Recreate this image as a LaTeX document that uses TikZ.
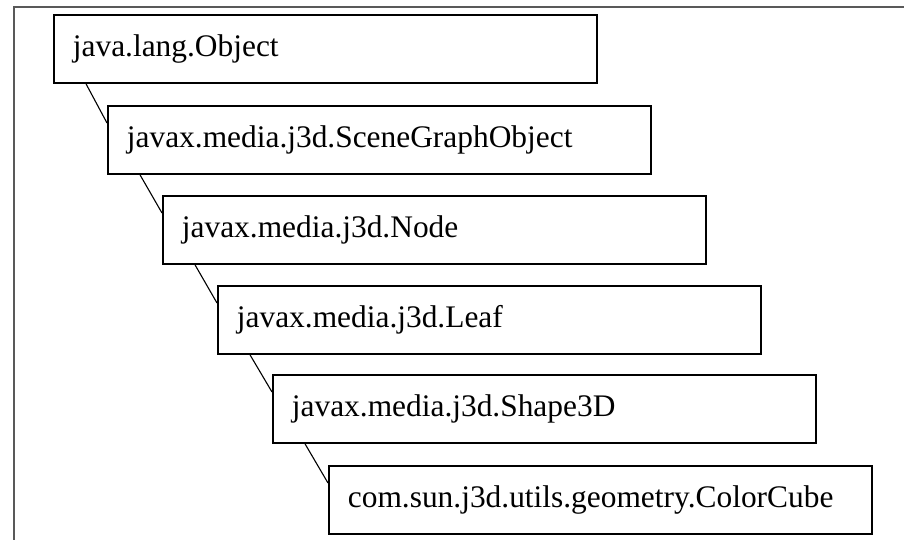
\documentclass[tikz,border=0pt]{standalone}
\usepackage{fontspec}
\setmainfont{Liberation Serif}
\tikzset{
  classbox/.style={draw, line width=1.8pt, anchor=north west, minimum height=68pt,
    text width=505pt, inner xsep=19pt, align=left, font=\fontsize{31.4}{36}\selectfont},
  inherit/.style={line width=1.1pt}
}

\begin{document}
\begin{tikzpicture}[x=1pt, y=-1pt]
\useasboundingbox (0,0) rectangle (904,540);
%\fill[gray!5] (0,0) -- (904,0) -- (904,6) -- (0,6) -- cycle;
\draw[gray!70!black, line width=1.5pt](904,7) -- (14,7) -- (14,540);

\node[classbox] (object) at (53,14) {java.lang.Object};
\node[classbox] (scenegraph) at (107,105) {javax.media.j3d.SceneGraphObject};
\node[classbox] (node) at (162,195) {javax.media.j3d.Node};
\node[classbox] (leaf) at (217,285) {javax.media.j3d.Leaf};
\node[classbox] (shape) at (272,374) {javax.media.j3d.Shape3D};
\node[classbox] (cube) at (328,465) {com.sun.j3d.utils.geometry.ColorCube};

\draw[inherit] ([xshift=33pt]object.south west) -- ([yshift=-18pt]scenegraph.north west);
\draw[inherit] ([xshift=33pt]scenegraph.south west) -- ([yshift=-18pt]node.north west);
\draw[inherit] ([xshift=33pt]node.south west) -- ([yshift=-18pt]leaf.north west);
\draw[inherit] ([xshift=33pt]leaf.south west) -- ([yshift=-18pt]shape.north west);
\draw[inherit] ([xshift=33pt]shape.south west) -- ([yshift=-18pt]cube.north west);

\end{tikzpicture}
\end{document}
